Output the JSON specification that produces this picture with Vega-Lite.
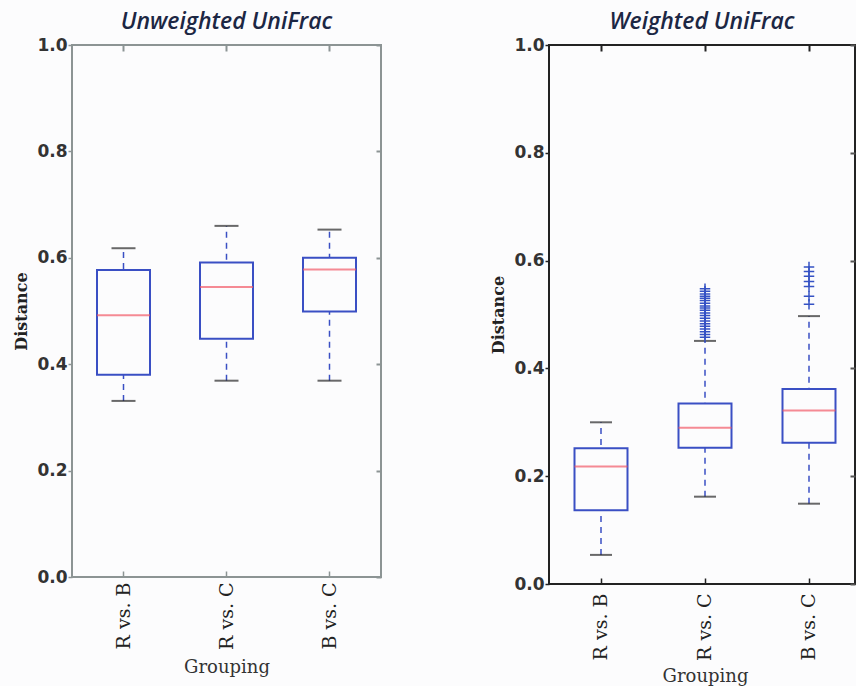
{
  "$schema": "https://vega.github.io/schema/vega-lite/v6.json",
  "background": "#fcfcfd",
  "padding": {"left": 12, "top": 10, "right": 0, "bottom": 0},
  "spacing": 168,
  "bounds": "flush",
  "datasets": {
    "unw": [
      {"group": "R vs. B", "lower": 0.331, "q1": 0.380, "median": 0.492, "q3": 0.577, "upper": 0.618},
      {"group": "R vs. C", "lower": 0.369, "q1": 0.448, "median": 0.545, "q3": 0.591, "upper": 0.660},
      {"group": "B vs. C", "lower": 0.369, "q1": 0.499, "median": 0.578, "q3": 0.600, "upper": 0.653}
    ],
    "w": [
      {"group": "R vs. B", "lower": 0.054, "q1": 0.137, "median": 0.218, "q3": 0.252, "upper": 0.300},
      {"group": "R vs. C", "lower": 0.162, "q1": 0.253, "median": 0.290, "q3": 0.335, "upper": 0.451},
      {"group": "B vs. C", "lower": 0.149, "q1": 0.262, "median": 0.322, "q3": 0.362, "upper": 0.497}
    ],
    "wout": [
      {"group": "R vs. C", "value": 0.548}, {"group": "R vs. C", "value": 0.543}, {"group": "R vs. C", "value": 0.538},
      {"group": "R vs. C", "value": 0.534}, {"group": "R vs. C", "value": 0.530}, {"group": "R vs. C", "value": 0.526},
      {"group": "R vs. C", "value": 0.521}, {"group": "R vs. C", "value": 0.516}, {"group": "R vs. C", "value": 0.512},
      {"group": "R vs. C", "value": 0.508}, {"group": "R vs. C", "value": 0.503}, {"group": "R vs. C", "value": 0.498},
      {"group": "R vs. C", "value": 0.493}, {"group": "R vs. C", "value": 0.488}, {"group": "R vs. C", "value": 0.483},
      {"group": "R vs. C", "value": 0.478}, {"group": "R vs. C", "value": 0.473}, {"group": "R vs. C", "value": 0.468},
      {"group": "R vs. C", "value": 0.463}, {"group": "R vs. C", "value": 0.458},
      {"group": "B vs. C", "value": 0.588}, {"group": "B vs. C", "value": 0.580}, {"group": "B vs. C", "value": 0.571},
      {"group": "B vs. C", "value": 0.561}, {"group": "B vs. C", "value": 0.552}, {"group": "B vs. C", "value": 0.534},
      {"group": "B vs. C", "value": 0.519}
    ]
  },
  "config": {
    "axis": {"grid": false, "domain": false},
    "axisY": {"labelFont": "DejaVu Sans", "labelFontWeight": "bold", "labelFontSize": 17, "labelColor": "#333333",
              "titleFont": "DejaVu Serif", "titleFontWeight": "bold", "titleFontSize": 16, "titleColor": "#222222"},
    "axisX": {"labelFont": "DejaVu Serif", "labelFontSize": 19, "labelColor": "#222222",
              "titleFont": "DejaVu Serif", "titleFontWeight": "normal", "titleFontSize": 18, "titleColor": "#333333"},
    "title": {"font": "Open Sans", "fontStyle": "italic", "fontWeight": 600, "fontSize": 23, "color": "#1c2744", "offset": 2}
  },
  "hconcat": [
    {
      "width": 309, "height": 532,
      "title": "Unweighted UniFrac",
      "view": {"stroke": "#8c9494", "strokeWidth": 2},
      "data": {"name": "unw"},
      "resolve": {"axis": {"x": "independent", "y": "independent"}},
      "layer": [
        {
          "mark": {"type": "rule", "color": "#3a4fc4", "strokeDash": [6, 5], "strokeWidth": 1.5},
          "encoding": {
            "x": {"field": "group", "type": "nominal", "scale": {"domain": ["R vs. B", "R vs. C", "B vs. C"], "paddingInner": 0, "paddingOuter": 0},
                  "axis": {"title": "Grouping", "labelAngle": -90, "ticks": true, "tickSize": -6, "tickColor": "#8c9494", "tickWidth": 1.5, "labelPadding": 11, "titlePadding": 9}},
            "y": {"field": "lower", "type": "quantitative", "scale": {"domain": [0, 1]},
                  "axis": {"title": "Distance", "values": [0, 0.2, 0.4, 0.6, 0.8, 1.0], "format": ".1f", "tickSize": 4, "tickColor": "#8c9494", "tickWidth": 1.5, "labelPadding": 1, "titlePadding": 7}},
            "y2": {"field": "upper"}
          }
        },
        {
          "mark": {"type": "bar", "width": 53, "fill": "#fcfcfd", "stroke": "#3a4fc4", "strokeWidth": 2},
          "encoding": {
            "x": {"field": "group", "type": "nominal", "axis": {"orient": "top", "labels": false, "title": null, "tickSize": -6, "tickColor": "#8c9494", "tickWidth": 2}},
            "y": {"field": "q1", "type": "quantitative", "axis": {"orient": "right", "labels": false, "title": null, "values": [0, 0.2, 0.4, 0.6, 0.8, 1.0], "tickSize": -5, "tickColor": "#8c9494", "tickWidth": 2}},
            "y2": {"field": "q3"}
          }
        },
        {
          "mark": {"type": "tick", "size": 53, "thickness": 2, "color": "#f25a66"},
          "encoding": {
            "x": {"field": "group", "type": "nominal", "axis": null},
            "y": {"field": "median", "type": "quantitative", "axis": null}
          }
        },
        {
          "mark": {"type": "tick", "size": 24, "thickness": 2, "color": "#2a2a2a"},
          "encoding": {
            "x": {"field": "group", "type": "nominal", "axis": null},
            "y": {"field": "lower", "type": "quantitative", "axis": null}
          }
        },
        {
          "mark": {"type": "tick", "size": 24, "thickness": 2, "color": "#2a2a2a"},
          "encoding": {
            "x": {"field": "group", "type": "nominal", "axis": null},
            "y": {"field": "upper", "type": "quantitative", "axis": null}
          }
        }
      ]
    },
    {
      "width": 306, "height": 539,
      "title": "Weighted UniFrac",
      "view": {"stroke": "#222222", "strokeWidth": 2},
      "data": {"name": "w"},
      "resolve": {"axis": {"x": "independent", "y": "independent"}},
      "layer": [
        {
          "mark": {"type": "rule", "color": "#3a4fc4", "strokeDash": [6, 5], "strokeWidth": 1.5},
          "encoding": {
            "x": {"field": "group", "type": "nominal", "scale": {"domain": ["R vs. B", "R vs. C", "B vs. C"], "range": [0, 312], "paddingInner": 0, "paddingOuter": 0},
                  "axis": {"title": "Grouping", "labelAngle": -90, "ticks": true, "tickSize": -6, "tickColor": "#222222", "tickWidth": 1.5, "labelPadding": 15, "titlePadding": 7}},
            "y": {"field": "lower", "type": "quantitative", "scale": {"domain": [0, 1]},
                  "axis": {"title": "Distance", "values": [0, 0.2, 0.4, 0.6, 0.8, 1.0], "format": ".1f", "tickSize": 4, "tickColor": "#222222", "tickWidth": 1.5, "labelPadding": 1, "titlePadding": 7}},
            "y2": {"field": "upper"}
          }
        },
        {
          "mark": {"type": "bar", "width": 53, "fill": "#fcfcfd", "stroke": "#3a4fc4", "strokeWidth": 2},
          "encoding": {
            "x": {"field": "group", "type": "nominal", "axis": {"orient": "top", "labels": false, "title": null, "tickSize": -6, "tickColor": "#222222", "tickWidth": 2}},
            "y": {"field": "q1", "type": "quantitative", "axis": {"orient": "right", "labels": false, "title": null, "values": [0, 0.2, 0.4, 0.6, 0.8, 1.0], "tickSize": -5, "tickColor": "#555555", "tickWidth": 2}},
            "y2": {"field": "q3"}
          }
        },
        {
          "mark": {"type": "tick", "size": 53, "thickness": 2, "color": "#f25a66"},
          "encoding": {
            "x": {"field": "group", "type": "nominal", "axis": null},
            "y": {"field": "median", "type": "quantitative", "axis": null}
          }
        },
        {
          "mark": {"type": "tick", "size": 22, "thickness": 2, "color": "#2a2a2a"},
          "encoding": {
            "x": {"field": "group", "type": "nominal", "axis": null},
            "y": {"field": "lower", "type": "quantitative", "axis": null}
          }
        },
        {
          "mark": {"type": "tick", "size": 22, "thickness": 2, "color": "#2a2a2a"},
          "encoding": {
            "x": {"field": "group", "type": "nominal", "axis": null},
            "y": {"field": "upper", "type": "quantitative", "axis": null}
          }
        },
        {
          "data": {"name": "wout"},
          "mark": {"type": "point", "shape": "M-1,0L1,0M0,-1L0,1", "size": 110, "filled": false, "stroke": "#3552c4", "strokeWidth": 1.5, "opacity": 1},
          "encoding": {
            "x": {"field": "group", "type": "nominal", "axis": null},
            "y": {"field": "value", "type": "quantitative", "axis": null}
          }
        }
      ]
    }
  ]
}
